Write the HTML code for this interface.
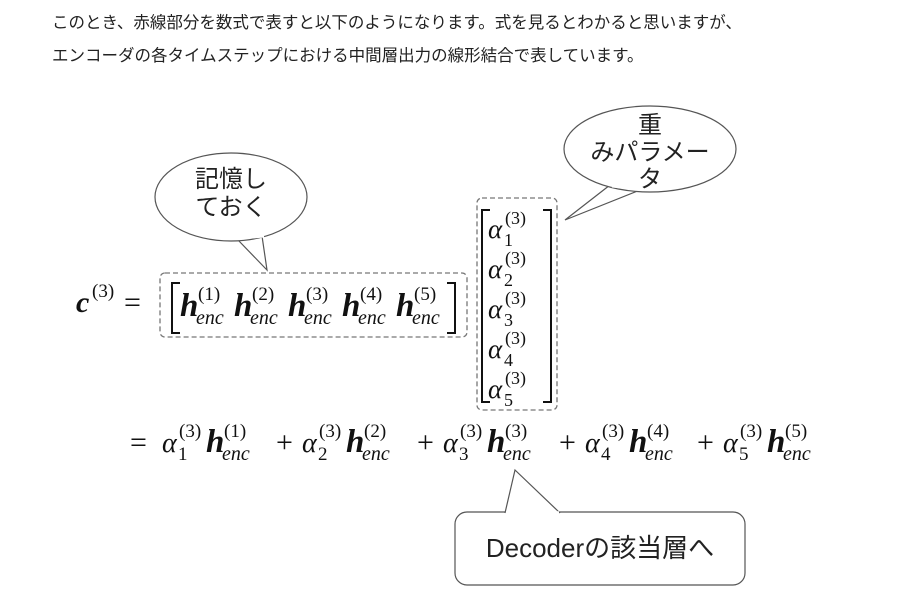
<!DOCTYPE html>
<html><head><meta charset="utf-8"><style>
body{margin:0;width:906px;height:595px;background:#fff;overflow:hidden;position:relative;font-family:"Liberation Sans","Noto Sans CJK JP",sans-serif}
.p{position:absolute;left:52px;font-size:16.5px;color:#222;white-space:nowrap}
svg{position:absolute;left:0;top:0}
.m{font-family:"Liberation Serif","DejaVu Serif",serif;fill:#111}
.j{font-family:"Liberation Sans","Noto Sans CJK JP",sans-serif;fill:#222}
</style></head><body>
<div class="p" style="top:9px">このとき、赤線部分を数式で表すと以下のようになります。式を見るとわかると思いますが、</div>
<div class="p" style="top:42px">エンコーダの各タイムステップにおける中間層出力の線形結合で表しています。</div>
<svg width="906" height="595" viewBox="0 0 906 595">
<path d="M238,240 L267,270 L262,236" fill="#fff" stroke="#555" stroke-width="1.2"/>
<ellipse cx="231" cy="197" rx="76" ry="44" fill="#fff" stroke="#555" stroke-width="1.2"/>
<path d="M240,238 L264,236" stroke="#fff" stroke-width="3"/>
<text class="j" x="231" y="187" font-size="24" text-anchor="middle">記憶し</text>
<text class="j" x="231" y="215" font-size="24" text-anchor="middle">ておく</text>
<path d="M610,185 L565,220 L640,190" fill="#fff" stroke="#555" stroke-width="1.2"/>
<ellipse cx="650" cy="149" rx="86" ry="43" fill="#fff" stroke="#555" stroke-width="1.2"/>
<path d="M612,186 L638,189" stroke="#fff" stroke-width="3"/>
<text class="j" x="650" y="133" font-size="24" text-anchor="middle">重</text>
<text class="j" x="650" y="160" font-size="24" text-anchor="middle">みパラメー</text>
<text class="j" x="650" y="187" font-size="24" text-anchor="middle">タ</text>
<rect x="160" y="273" width="307" height="64" rx="5" fill="none" stroke="#777" stroke-width="1.3" stroke-dasharray="5,3"/>
<rect x="477" y="198" width="80" height="212" rx="5" fill="none" stroke="#777" stroke-width="1.3" stroke-dasharray="5,3"/>
<text class="m" x="76" y="312" font-size="30" font-style="italic" font-weight="bold">c</text>
<text class="m" x="92" y="297" font-size="19">(3)</text>
<text class="m" x="124" y="312" font-size="30">=</text>
<path d="M180,283 L172,283 L172,333 L180,333" fill="none" stroke="#111" stroke-width="2"/>
<path d="M447,283 L455,283 L455,333 L447,333" fill="none" stroke="#111" stroke-width="2"/>
<g class="m">
<text x="180" y="316" font-size="33" font-style="italic" font-weight="bold">h</text><text x="198" y="300" font-size="19">(1)</text><text x="196" y="324" font-size="20" font-style="italic">enc</text>
<text x="234" y="316" font-size="33" font-style="italic" font-weight="bold">h</text><text x="252" y="300" font-size="19">(2)</text><text x="250" y="324" font-size="20" font-style="italic">enc</text>
<text x="288" y="316" font-size="33" font-style="italic" font-weight="bold">h</text><text x="306" y="300" font-size="19">(3)</text><text x="304" y="324" font-size="20" font-style="italic">enc</text>
<text x="342" y="316" font-size="33" font-style="italic" font-weight="bold">h</text><text x="360" y="300" font-size="19">(4)</text><text x="358" y="324" font-size="20" font-style="italic">enc</text>
<text x="396" y="316" font-size="33" font-style="italic" font-weight="bold">h</text><text x="414" y="300" font-size="19">(5)</text><text x="412" y="324" font-size="20" font-style="italic">enc</text>
</g>
<path d="M490,210 L482,210 L482,402 L490,402" fill="none" stroke="#111" stroke-width="2"/>
<path d="M543,210 L551,210 L551,402 L543,402" fill="none" stroke="#111" stroke-width="2"/>
<g class="m" font-size="27">
<text x="488" y="238" font-style="italic">α</text><text x="505" y="224" font-size="18">(3)</text><text x="504" y="246" font-size="18">1</text>
<text x="488" y="278" font-style="italic">α</text><text x="505" y="264" font-size="18">(3)</text><text x="504" y="286" font-size="18">2</text>
<text x="488" y="318" font-style="italic">α</text><text x="505" y="304" font-size="18">(3)</text><text x="504" y="326" font-size="18">3</text>
<text x="488" y="358" font-style="italic">α</text><text x="505" y="344" font-size="18">(3)</text><text x="504" y="366" font-size="18">4</text>
<text x="488" y="398" font-style="italic">α</text><text x="505" y="384" font-size="18">(3)</text><text x="504" y="406" font-size="18">5</text>
</g>
<g class="m">
<text x="130" y="452" font-size="30">=</text>
<text x="162" y="452" font-size="28" font-style="italic">α</text><text x="179" y="437" font-size="19">(3)</text><text x="178" y="460" font-size="19">1</text>
<text x="206" y="452" font-size="33" font-style="italic" font-weight="bold">h</text><text x="224" y="437" font-size="19">(1)</text><text x="222" y="460" font-size="20" font-style="italic">enc</text>
<text x="276" y="452" font-size="30">+</text>
<text x="302" y="452" font-size="28" font-style="italic">α</text><text x="319" y="437" font-size="19">(3)</text><text x="318" y="460" font-size="19">2</text>
<text x="346" y="452" font-size="33" font-style="italic" font-weight="bold">h</text><text x="364" y="437" font-size="19">(2)</text><text x="362" y="460" font-size="20" font-style="italic">enc</text>
<text x="417" y="452" font-size="30">+</text>
<text x="443" y="452" font-size="28" font-style="italic">α</text><text x="460" y="437" font-size="19">(3)</text><text x="459" y="460" font-size="19">3</text>
<text x="487" y="452" font-size="33" font-style="italic" font-weight="bold">h</text><text x="505" y="437" font-size="19">(3)</text><text x="503" y="460" font-size="20" font-style="italic">enc</text>
<text x="559" y="452" font-size="30">+</text>
<text x="585" y="452" font-size="28" font-style="italic">α</text><text x="602" y="437" font-size="19">(3)</text><text x="601" y="460" font-size="19">4</text>
<text x="629" y="452" font-size="33" font-style="italic" font-weight="bold">h</text><text x="647" y="437" font-size="19">(4)</text><text x="645" y="460" font-size="20" font-style="italic">enc</text>
<text x="697" y="452" font-size="30">+</text>
<text x="723" y="452" font-size="28" font-style="italic">α</text><text x="740" y="437" font-size="19">(3)</text><text x="739" y="460" font-size="19">5</text>
<text x="767" y="452" font-size="33" font-style="italic" font-weight="bold">h</text><text x="785" y="437" font-size="19">(5)</text><text x="783" y="460" font-size="20" font-style="italic">enc</text>
</g>
<rect x="455" y="512" width="290" height="73" rx="12" fill="#fff" stroke="#555" stroke-width="1.2"/>
<path d="M505,513 L515,470 L560,513" fill="#fff" stroke="#555" stroke-width="1.2"/>
<path d="M506,512.5 L559,512.5" stroke="#fff" stroke-width="2.5"/>
<text class="j" x="600" y="557" font-size="26" text-anchor="middle">Decoderの該当層へ</text>
</svg>
</body></html>
